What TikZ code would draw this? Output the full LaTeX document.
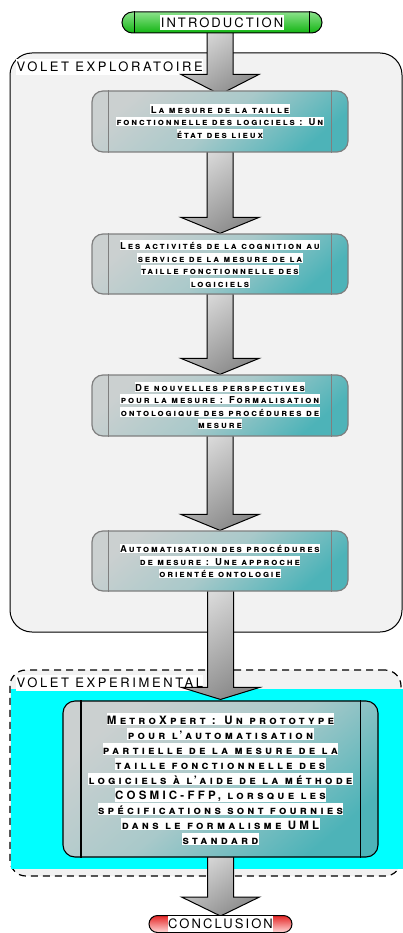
\documentclass[tikz,border=0pt]{standalone}
\usepackage{fontspec}
\setmainfont{TeX Gyre Heros}
\usetikzlibrary{calc}

\pgfdeclarelayer{back}
\pgfdeclarelayer{arrows}
\pgfsetlayers{back,arrows,main}

\definecolor{panel}{HTML}{F2F2F2}
\definecolor{boxlight}{HTML}{CBD0D0}
\definecolor{boxmid}{HTML}{A9C9CA}
\definecolor{boxteal}{HTML}{4DB3B8}
\definecolor{edgegray}{HTML}{7F7F7F}
\definecolor{aqua}{HTML}{00FFFF}
\definecolor{arrowlight}{HTML}{DADADA}
\definecolor{arrowdark}{HTML}{8A8A8A}
\definecolor{greenhi}{HTML}{8AE28A}
\definecolor{greenlo}{HTML}{12B412}
\definecolor{redhi}{HTML}{E52626}
\definecolor{redlo}{HTML}{FFD8D8}

% fonts
\newcommand\boxfont{\fontsize{9.5}{12.5}\selectfont\addfontfeatures{LetterSpace=20}\bfseries\scshape}
\newcommand\bigboxfont{\fontsize{11.5}{15}\selectfont\addfontfeatures{LetterSpace=28}\bfseries\scshape}
\newcommand\titlefont{\fontsize{13}{15}\selectfont\addfontfeatures{LetterSpace=16}}
\newcommand\labelfont{\fontsize{13}{15}\selectfont\addfontfeatures{LetterSpace=20}}

% one line of text on a white strip
\setlength\fboxsep{0.4pt}
\newcommand\hlline[1]{\colorbox{white}{\vphantom{ÁLg}#1}}

% the two inner bars of a "predefined process" box
\newcommand\sidebars[3]{%
  \draw[#3] ([xshift=#2]#1.north west) -- ([xshift=#2]#1.south west)
            ([xshift=-#2]#1.north east) -- ([xshift=-#2]#1.south east);}

% wide shaded block arrow from one node down to the next
% #3 = head length, #4 = how far the tip goes below the target's top
\newcommand\blockarrow[4]{%
  \path[blockarrow] let \p1=(#1.south), \p2=(#2.north) in
    (\x2-13pt,\y1+1pt) -- (\x2-13pt,\y2-#4pt+#3pt) -- (\x2-39pt,\y2-#4pt+#3pt)
    -- (\x2,\y2-#4pt) -- (\x2+39pt,\y2-#4pt+#3pt) -- (\x2+13pt,\y2-#4pt+#3pt)
    -- (\x2+13pt,\y1+1pt) -- cycle;}

\tikzset{
  boxshade/.style={top color=boxlight, bottom color=boxteal,
    middle color=boxmid, shading angle=40},
  chapter/.style={draw=edgegray, line width=1.2pt, rounded corners=11,
    boxshade, minimum width=256, inner sep=0pt, align=center, font=\boxfont},
  bigchapter/.style={draw=black, line width=1.1pt, rounded corners=12,
    boxshade, minimum width=315, minimum height=156, inner sep=0pt,
    align=center, font=\bigboxfont},
  terminal/.style={draw=black, line width=1pt, inner sep=0pt,
    font=\titlefont},
  panelbox/.style={draw=black, line width=1pt, fill=panel, inner sep=0pt},
  sectionlabel/.style={inner sep=0pt, font=\labelfont, anchor=west},
  blockarrow/.style={draw=black, line width=1pt, top color=arrowlight,
    bottom color=arrowdark, shading angle=35},
}

\begin{document}
\begin{tikzpicture}[x=1pt, y=-1pt]
\useasboundingbox (0,0) rectangle (403,933);

% ---- the two parts of the work
\begin{pgfonlayer}{back}
  \node[panelbox, rounded corners=22, minimum width=392, minimum height=579]
    (explo) at (206,342.5) {};
  \node[panelbox, dashed, dash pattern=on 7pt off 5pt, line width=1.2pt,
    rounded corners=16, minimum width=391, minimum height=206]
    (exper) at (205.5,773) {};
  \fill[aqua] (11,689) rectangle (403,869);
  \node[sectionlabel] (labexplo) at (16,67) {\hlline{VOLET EXPLORATOIRE}};
  \node[sectionlabel] (labexper) at (16,683) {\hlline{VOLET EXPERIMENTAL}};
\end{pgfonlayer}

% ---- start and end
\node[terminal, rounded corners=10.5, minimum width=200, minimum height=21,
  top color=greenhi, bottom color=greenlo] (intro) at (222,22.5)
  {\hlline{INTRODUCTION}};
\sidebars{intro}{13}{black, line width=1pt}

\node[terminal, rounded corners=8.5, minimum width=143, minimum height=17,
  top color=redhi, bottom color=redlo] (concl) at (220.5,924)
  {\hlline{CONCLUSION}};

% ---- chapters
\node[chapter, minimum height=61] (b1) at (220,121.5)
  {\hlline{La mesure de la taille}\\
   \hlline{fonctionnelle des logiciels : Un}\\
   \hlline{état des lieux}};
\sidebars{b1}{17}{edgegray, line width=1.2pt}

\node[chapter, minimum height=60] (b2) at (220,264)
  {\hlline{Les activités de la cognition au}\\
   \hlline{service de la mesure de la}\\
   \hlline{taille fonctionnelle des}\\
   \hlline{logiciels}};
\sidebars{b2}{17}{edgegray, line width=1.2pt}

\node[chapter, minimum height=61] (b3) at (220,405.5)
  {\hlline{De nouvelles perspectives}\\
   \hlline{pour la mesure : Formalisation}\\
   \hlline{ontologique des procédures de}\\
   \hlline{mesure}};
\sidebars{b3}{17}{edgegray, line width=1.2pt}

\node[chapter, minimum height=60] (b4) at (220,561)
  {\hlline{Automatisation des procédures}\\
   \hlline{de mesure : Une approche}\\
   \hlline{orientée ontologie}};
\sidebars{b4}{17}{edgegray, line width=1.2pt}

\node[bigchapter] (b5) at (220.5,779)
  {\hlline{MetroXpert : Un prototype}\\
   \hlline{pour l'automatisation}\\
   \hlline{partielle de la mesure de la}\\
   \hlline{taille fonctionnelle des}\\
   \hlline{logiciels à l'aide de la méthode}\\
   \hlline{COSMIC-FFP, lorsque les}\\
   \hlline{spécifications sont fournies}\\
   \hlline{dans le formalisme UML}\\
   \hlline{standard}};
\sidebars{b5}{18.5}{black, line width=1.1pt}

% ---- flow
\begin{pgfonlayer}{arrows}
  \blockarrow{intro}{b1}{20}{4}
  \blockarrow{b1}{b2}{16}{0}
  \blockarrow{b2}{b3}{16}{0}
  \blockarrow{b3}{b4}{16}{0}
  \blockarrow{b4}{b5}{12}{-1}
  \blockarrow{b5}{concl}{19}{1}
\end{pgfonlayer}
\end{tikzpicture}
\end{document}
